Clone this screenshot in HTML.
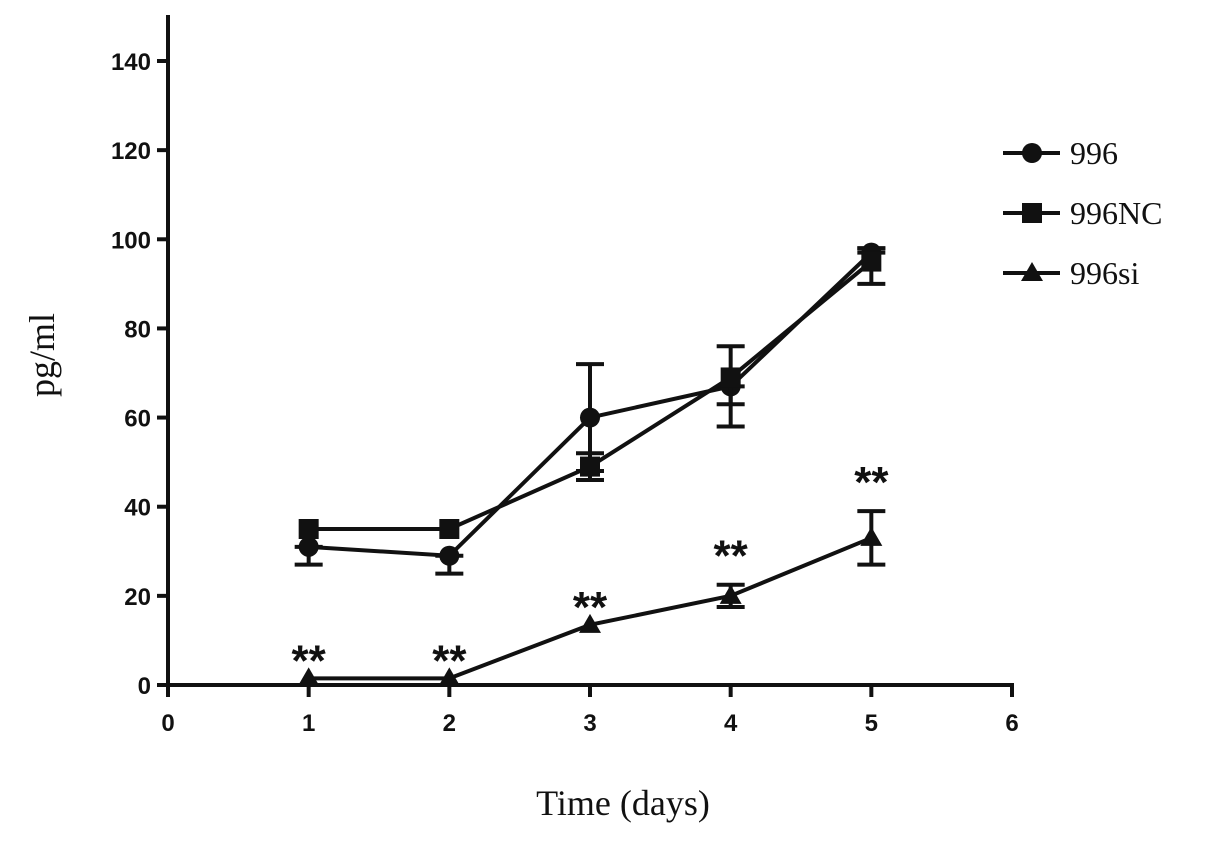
<!DOCTYPE html>
<html><head><meta charset="utf-8"><style>
body{margin:0;background:#fff}
svg{display:block}
.tk{font-family:"Liberation Sans",sans-serif;font-weight:bold;font-size:24px;fill:#111}
.sr{font-family:"Liberation Serif",serif;fill:#111}
</style></head><body>
<svg id="c" width="1205" height="842"></svg>
<script>
const days=[1,2,3,4,5];
const s996=[31,29,60,67,97];
const s996Lo=[27,25,48,58,97];
const s996Hi=[31,29,72,67,98];
const sNC=[35,35,49,69,95];
const sNCLo=[35,35,46,63,90];
const sNCHi=[35,35,52,76,98];
const sSi=[1.5,1.5,13.5,20,33];
const sSiLo=[1.5,1.5,13.5,17.5,27];
const sSiHi=[1.5,1.5,13.5,22.5,39];
const xTicks=[0,1,2,3,4,5,6];
const yTicks=[0,20,40,60,80,100,120,140];
const seriesNames=["996","996NC","996si"];
const X=v=>168+v*(1012-168)/6;
const Y=v=>685-v*(685-61)/140;
const svg=document.getElementById('c');
const NS='http://www.w3.org/2000/svg';
function el(t,a,p){const e=document.createElementNS(NS,t);for(const k in a)e.setAttribute(k,a[k]);(p||svg).appendChild(e);return e;}
let e;
e=el('line',{x1:168,y1:15,x2:168,y2:686,stroke:'#111','stroke-width':4});


e=el('line',{x1:166,y1:685,x2:1014,y2:685,stroke:'#111','stroke-width':4});


yTicks.forEach(v=>{
 el('line',{x1:157,y1:Y(v),x2:168,y2:Y(v),stroke:'#111','stroke-width':4});
 e=el('text',{x:151,y:Y(v)+9,'text-anchor':'end',class:'tk'});e.textContent=v;
 
 
});
xTicks.forEach(v=>{
 el('line',{x1:X(v),y1:685,x2:X(v),y2:697,stroke:'#111','stroke-width':4});
 e=el('text',{x:X(v),y:731,'text-anchor':'middle',class:'tk'});e.textContent=v;
 
 
});
e=el('text',{x:623,y:815,'text-anchor':'middle',class:'sr',style:'font-size:36px'});e.textContent='Time (days)';


e=el('text',{x:0,y:0,'text-anchor':'middle',class:'sr',style:'font-size:36px',transform:'translate(54,355) rotate(-90)'});e.textContent='pg/ml';


function marker(kind,x,y,g){
 if(kind==0)return el('circle',{cx:x,cy:y,r:10,fill:'#111'},g);
 if(kind==1)return el('rect',{x:x-10,y:y-10,width:20,height:20,fill:'#111'},g);
 return el('polygon',{points:`${x},${y-11} ${x+11},${y+8} ${x-11},${y+8}`,fill:'#111'},g);
}
const all=[[s996,s996Lo,s996Hi],[sNC,sNCLo,sNCHi],[sSi,sSiLo,sSiHi]];
all.forEach((s,k)=>{
 const g=el('g',{});
 
 
 el('polyline',{points:days.map((d,i)=>X(d)+','+Y(s[0][i])).join(' '),fill:'none',stroke:'#111','stroke-width':4},g);
 days.forEach((d,i)=>{
  const x=X(d);
  if(s[2][i]-s[1][i]>0.5){
   el('line',{x1:x,y1:Y(s[1][i]),x2:x,y2:Y(s[2][i]),stroke:'#111','stroke-width':4},g);
   [s[1][i],s[2][i]].forEach(v=>el('line',{x1:x-14,y1:Y(v),x2:x+14,y2:Y(v),stroke:'#111','stroke-width':4},g));
  }
  e=marker(k,x,Y(s[0][i]),g);
  
  
 });
});
days.forEach((d,i)=>{
 const bar=sSiHi[i]-sSiLo[i]>0.5;
 const yy=bar?Y(sSiHi[i])-14:Y(sSi[i])-3;
 e=el('text',{x:X(d),y:yy,'text-anchor':'middle',style:'font-family:"Liberation Sans",sans-serif;font-weight:bold;font-size:44px;fill:#111'});e.textContent='**';
 
 
});
seriesNames.forEach((n,k)=>{
 const y=153+k*60;
 const g=el('g',{});
 
 
 el('line',{x1:1003,y1:y,x2:1060,y2:y,stroke:'#111','stroke-width':4},g);
 marker(k,1032,y,g);
 e=el('text',{x:1070,y:y+11,class:'sr',style:'font-size:32px'},g);e.textContent=n;
});
</script>
</body></html>
